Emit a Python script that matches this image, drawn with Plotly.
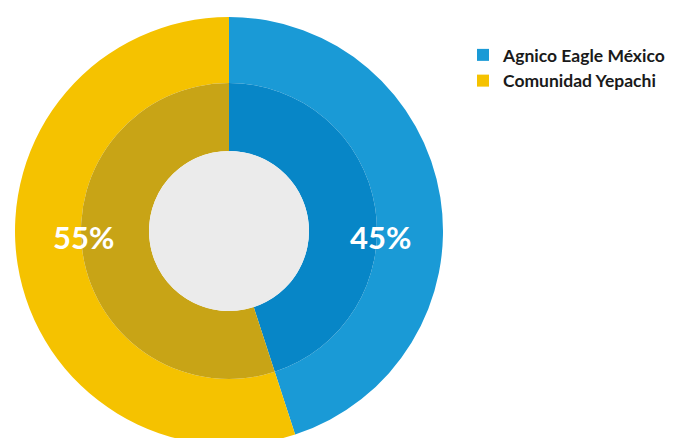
import plotly.graph_objects as go

# Participation shares
labels = ["Agnico Eagle México", "Comunidad Yepachi"]
shares = [45, 55]

outer_colors = ["#1A9AD6", "#F5C200"]
inner_colors = ["#0786C7", "#C8A416"]
center_color = "#EBEBEB"

# Canvas and ring geometry (pixels)
W, H = 681, 462
TOP, BOTTOM = 17, 17
CX = 229
R_OUT, R_MID, R_CORE = 214, 148, 80
PLOT_H = H - TOP - BOTTOM


def xdom(r):
    return [(CX - r) / W, (CX + r) / W]


def ydom(r):
    return [0.5 - r / PLOT_H, 0.5 + r / PLOT_H]


fig = go.Figure()

# Outer ring
fig.add_trace(go.Pie(
    labels=labels, values=shares, sort=False, direction="clockwise", rotation=0,
    hole=R_MID / R_OUT, marker=dict(colors=outer_colors, line=dict(width=0)),
    textinfo="none", hoverinfo="label+percent",
    domain=dict(x=xdom(R_OUT), y=ydom(R_OUT)), showlegend=True,
))

# Inner, darker ring
fig.add_trace(go.Pie(
    labels=labels, values=shares, sort=False, direction="clockwise", rotation=0,
    hole=R_CORE / R_MID, marker=dict(colors=inner_colors, line=dict(width=0)),
    textinfo="none", hoverinfo="label+percent",
    domain=dict(x=xdom(R_MID), y=ydom(R_MID)), showlegend=False,
))

# Light grey core
fig.add_shape(
    type="circle", xref="paper", yref="paper", layer="above",
    x0=(CX - R_CORE) / W, x1=(CX + R_CORE) / W,
    y0=0.5 - R_CORE / PLOT_H, y1=0.5 + R_CORE / PLOT_H,
    fillcolor=center_color, line=dict(width=0),
)

# Percentage labels on the ring seam, right for the first share, left for the second
label_dx = [151, -146]
label_dy = 6
for share, dx in zip(shares, label_dx):
    fig.add_annotation(
        x=(CX + dx) / W, y=0.5 - label_dy / PLOT_H, xref="paper", yref="paper",
        text=f"{share}%", showarrow=False, xanchor="center", yanchor="middle",
        font=dict(family="Lato", size=31, color="white", weight="bold"),
    )

fig.update_layout(
    width=W, height=H,
    margin=dict(l=0, r=0, t=TOP, b=BOTTOM, pad=0),
    paper_bgcolor="white", plot_bgcolor="white",
    legend=dict(
        x=463 / W, y=1 - (37 - TOP) / PLOT_H, xanchor="left", yanchor="top",
        font=dict(family="Lato", size=17.5, color="#1A1A1A", weight="bold"),
        bgcolor="rgba(0,0,0,0)", borderwidth=0,
    ),
)

fig.write_html(
    "out.html",
    post_script="document.documentElement.style.overflow='hidden';"
                "document.body.style.overflow='hidden';document.body.style.margin='0';",
)
